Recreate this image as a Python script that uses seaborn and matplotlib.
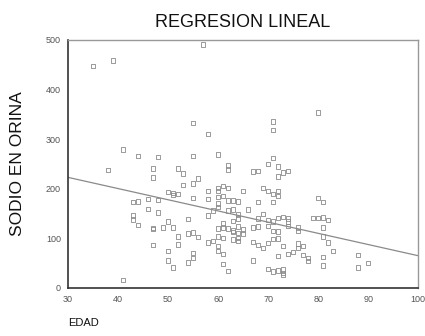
import pandas as pd
import matplotlib
matplotlib.use('Agg')
import matplotlib.pyplot as plt
import seaborn as sns

# Datos: edad y sodio en orina
edad = [35, 39, 57, 80, 55, 71, 71, 58, 41, 44, 48, 55, 60, 71, 38, 47, 47, 52, 53, 53,
        55, 56, 62, 62, 67, 68, 70, 72, 72, 73, 74, 50, 51, 51, 52, 55, 58, 58, 60, 60,
        61, 62, 60, 61, 62, 63, 64, 65, 69, 70, 71, 72, 72, 68, 71, 80, 81, 43, 44, 46,
        48, 46, 48, 43, 43, 44, 47, 49, 50, 51, 54, 58, 59, 60, 60, 62, 63, 64, 64, 66,
        69, 68, 70, 71, 72, 73, 74, 74, 80, 81, 82, 79, 76, 61, 61, 63, 41, 47, 47, 50,
        50, 51, 52, 52, 54, 55, 55, 54, 55, 56, 58, 59, 60, 61, 61, 62, 60, 60, 61, 63,
        64, 64, 63, 64, 65, 67, 67, 68, 69, 70, 71, 72, 70, 71, 72, 73, 73, 73, 72, 73,
        74, 75, 76, 76, 77, 77, 78, 78, 81, 81, 82, 83, 81, 81, 88, 88, 90, 76, 74, 71,
        70, 72, 67, 68, 64, 65, 60, 62, 63]
sodio = [448, 459, 491, 354, 333, 336, 319, 310, 279, 266, 264, 266, 269, 262, 238, 241, 223, 241, 231, 208,
         211, 221, 247, 239, 235, 236, 250, 245, 225, 233, 236, 194, 188, 192, 190, 181, 196, 179, 202, 195,
         206, 202, 184, 186, 176, 176, 174, 195, 201, 196, 189, 196, 186, 173, 173, 181, 173, 173, 174, 179,
         177, 159, 152, 146, 138, 127, 121, 122, 134, 122, 139, 146, 156, 170, 163, 156, 158, 148, 140, 158,
         149, 140, 137, 134, 141, 143, 140, 134, 141, 142, 137, 141, 122, 130, 122, 135, 16, 87, 119, 75,
         55, 41, 88, 104, 51, 71, 60, 110, 112, 103, 92, 95, 85, 69, 48, 34, 75, 104, 101, 98,
         95, 101, 113, 111, 110, 55, 93, 86, 80, 91, 99, 100, 38, 33, 35, 37, 30, 26, 65, 85,
         69, 72, 80, 90, 85, 66, 60, 54, 63, 45, 92, 74, 122, 104, 67, 41, 50, 115, 125, 115,
         125, 114, 122, 124, 124, 118, 120, 120, 116]

# Recta de regresion (extremos)
recta_x = [30, 100]
recta_y = [223, 65]

df = pd.DataFrame({'EDAD': edad, 'SODIO': sodio})
df_recta = pd.DataFrame({'EDAD': recta_x, 'SODIO': recta_y})

sns.set_style('white')
plt.rcParams['font.family'] = ['Liberation Sans', 'DejaVu Sans']

fig = plt.figure(figsize=(4.25, 3.36), dpi=100)
ax = fig.add_axes([0.16, 0.143, 0.824, 0.738])

sns.scatterplot(data=df, x='EDAD', y='SODIO', marker='s', s=10,
                facecolor='none', edgecolor='#8a8a8a', linewidth=0.6, ax=ax)
sns.lineplot(data=df_recta, x='EDAD', y='SODIO', color='#8a8a8a', linewidth=0.9, ax=ax)

ax.set_xlim(30, 100)
ax.set_ylim(0, 500)
ax.set_xticks([30, 40, 50, 60, 70, 80, 90, 100])
ax.set_yticks([0, 100, 200, 300, 400, 500])
ax.tick_params(axis='both', labelsize=6.5, colors='#222222', labelcolor='#555555',
               length=2, width=1.2, direction='out', pad=3)

for lado in ['left', 'bottom']:
    ax.spines[lado].set_color('#333333')
    ax.spines[lado].set_linewidth(1.2)
for lado in ['top', 'right']:
    ax.spines[lado].set_color('#999999')
    ax.spines[lado].set_linewidth(1.0)

ax.set_title('REGRESION LINEAL', fontsize=13, color='#111111', pad=9)
ax.set_ylabel('SODIO EN ORINA', fontsize=12.5, color='#111111')
ax.yaxis.set_label_coords(-0.123, 0.5)
ax.set_xlabel('EDAD', fontsize=8, color='#111111')
ax.xaxis.set_label_coords(0.0, -0.12)
ax.xaxis.label.set_horizontalalignment('left')

fig.savefig('out.png', dpi=100)
